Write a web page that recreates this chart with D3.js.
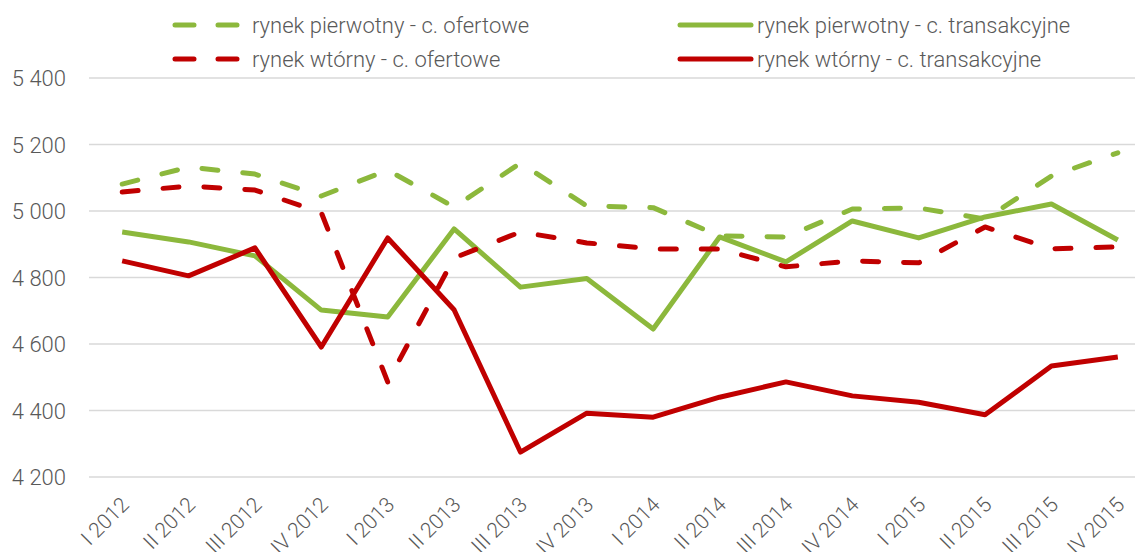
<!DOCTYPE html>
<html>
<head>
<meta charset="utf-8">
<script src="https://cdn.jsdelivr.net/npm/d3@7"></script>
<style>
  body { margin: 0; background: #fff; }
  svg { display: block; font-family: Roboto, "Noto Sans", sans-serif; font-weight: 300; }
</style>
</head>
<body>
<svg id="chart" width="1135" height="552"></svg>
<script>
const quarters = ["I 2012","II 2012","III 2012","IV 2012","I 2013","II 2013","III 2013","IV 2013",
                  "I 2014","II 2014","III 2014","IV 2014","I 2015","II 2015","III 2015","IV 2015"];
const pierwotnyOfertowe = [5081,5132,5111,5045,5123,5012,5144,5015,5010,4925,4922,5006,5009,4976,5105,5175];
const pierwotnyTransakcyjne = [4937,4907,4865,4702,4681,4946,4771,4797,4645,4922,4847,4970,4919,4982,5021,4913];
const wtornyOfertowe = [5057,5075,5063,4995,4486,4859,4937,4904,4886,4886,4832,4850,4844,4952,4886,4892];
const wtornyTransakcyjne = [4850,4805,4889,4591,4919,4703,4275,4392,4380,4440,4486,4444,4425,4387,4534,4561];
const yTicks = [4200,4400,4600,4800,5000,5200,5400];

const green = "#8cb83c", red = "#c00000";
const series = [
  {name: "rynek pierwotny - c. ofertowe", values: pierwotnyOfertowe, color: green, dashed: true},
  {name: "rynek pierwotny - c. transakcyjne", values: pierwotnyTransakcyjne, color: green, dashed: false},
  {name: "rynek wtórny - c. ofertowe", values: wtornyOfertowe, color: red, dashed: true},
  {name: "rynek wtórny - c. transakcyjne", values: wtornyTransakcyjne, color: red, dashed: false}
];

const svg = d3.select("#chart");
const plotLeft = 89, plotRight = 1151, plotTop = 78, plotBottom = 477;

const x = d3.scalePoint().domain(quarters).range([plotLeft, plotRight]).padding(0.5);
const y = d3.scaleLinear().domain([4200, 5400]).range([plotBottom, plotTop]);

// grid
svg.append("g")
  .selectAll("line")
  .data(yTicks)
  .join("line")
  .attr("x1", plotLeft).attr("x2", plotRight)
  .attr("y1", d => y(d)).attr("y2", d => y(d))
  .attr("stroke", "#d9d9d9").attr("stroke-width", 1.5);

// y labels
const fmt = d => d3.format(",")(d).replace(",", " ");
svg.append("g")
  .selectAll("text")
  .data(yTicks)
  .join("text")
  .attr("x", 66).attr("y", d => y(d) + 8)
  .attr("text-anchor", "end")
  .attr("fill", "#595959")
  .style("font-size", "22px")
  .text(fmt);

// x labels
svg.append("g")
  .selectAll("text")
  .data(quarters)
  .join("text")
  .attr("transform", d => `translate(${x(d) + 8},${506}) rotate(-45)`)
  .attr("text-anchor", "end")
  .attr("fill", "#595959")
  .style("font-size", "21px")
  .text(d => d);

// lines
const line = d3.line()
  .x((d, i) => x(quarters[i]))
  .y(d => y(d));

svg.append("g")
  .selectAll("path")
  .data(series)
  .join("path")
  .attr("d", s => line(s.values))
  .attr("fill", "none")
  .attr("stroke", s => s.color)
  .attr("stroke-width", 5)
  .attr("stroke-linejoin", "round")
  .attr("stroke-linecap", s => s.dashed ? "round" : "butt")
  .attr("stroke-dasharray", s => s.dashed ? "16,25" : null);

// legend
const legendPos = [[175, 25], [680, 25], [175, 59], [680, 59]];
const lg = svg.append("g")
  .selectAll("g")
  .data(series)
  .join("g")
  .attr("transform", (s, i) => `translate(${legendPos[i][0]},${legendPos[i][1]})`);

lg.append("line")
  .attr("x1", 0).attr("x2", s => s.dashed ? 67 : 71)
  .attr("y1", 0).attr("y2", 0)
  .attr("stroke", s => s.color)
  .attr("stroke-width", 5)
  .attr("stroke-linecap", "round")
  .attr("stroke-dasharray", s => s.dashed ? "19,24" : null);

lg.append("text")
  .attr("x", 77)
  .attr("y", 8)
  .attr("fill", "#595959")
  .style("font-size", "22px")
  .text(s => s.name);
</script>
</body>
</html>
